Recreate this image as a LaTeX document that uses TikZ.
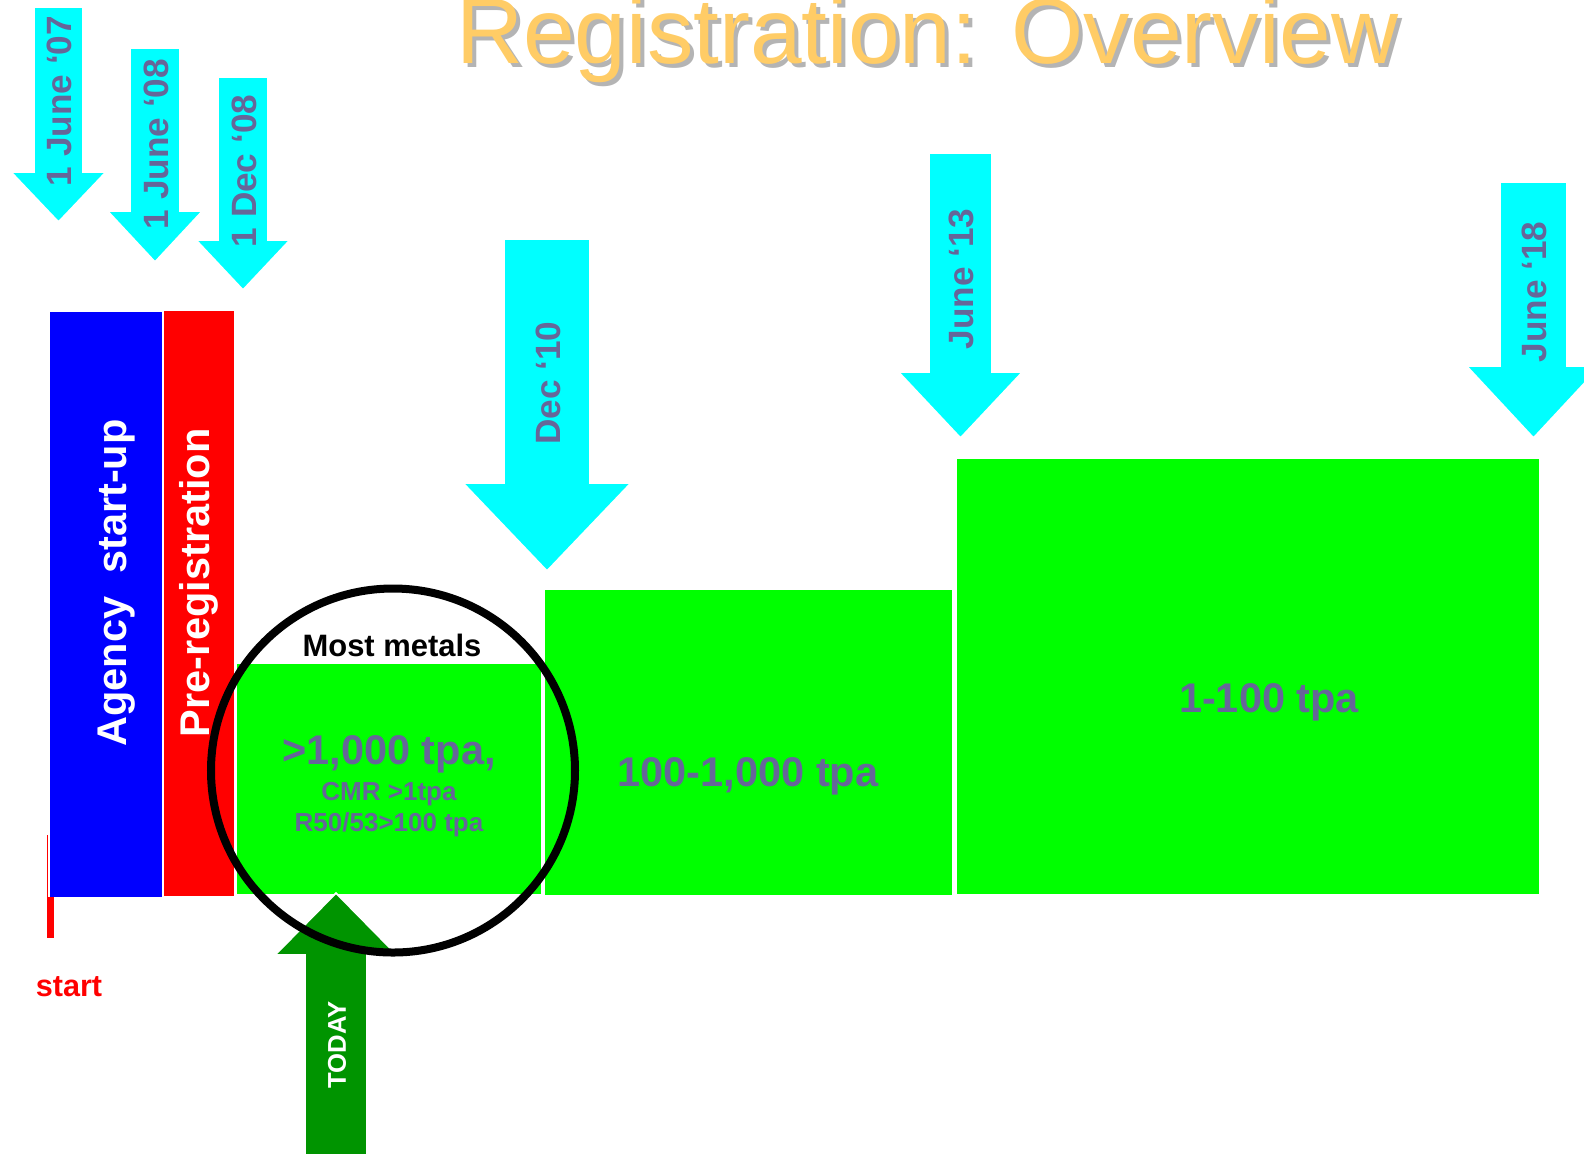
\documentclass[tikz,border=0pt]{standalone}
\usepackage{fontspec}
\setmainfont{Liberation Sans}
\usetikzlibrary{positioning}
\definecolor{slate}{RGB}{102,102,153}
\definecolor{titleorange}{RGB}{255,204,102}
\definecolor{shadowgrey}{RGB}{180,180,180}
\definecolor{datecyan}{RGB}{0,255,255}
\definecolor{todaygreen}{RGB}{0,148,0}
\definecolor{bandgreen}{RGB}{0,255,0}
\tikzset{
  datearrow/.style={fill=datecyan, draw=white, line width=0.5pt},
  todayarrow/.style={fill=todaygreen, draw=white, line width=0.5pt},
  datelabel/.style={rotate=90, text=slate, inner sep=0pt, font=\bfseries\fontsize{10}{12}\selectfont},
  barlabel/.style={rotate=90, text=white, inner sep=0pt, font=\bfseries\fontsize{11.8}{14}\selectfont},
  band/.style={fill=bandgreen, draw=white, line width=0.4pt},
  bandlabel/.style={text=slate, inner sep=0pt, font=\bfseries\fontsize{11.8}{14}\selectfont},
  sublabel/.style={text=slate, inner sep=0pt, font=\bfseries\fontsize{7.4}{9}\selectfont},
  titletext/.style={anchor=base, inner sep=0pt, font=\fontsize{26.4}{30}\selectfont},
}

\begin{document}
\begin{tikzpicture}[x=0.01cm,y=-0.01cm]
	\useasboundingbox (0,0) rectangle (1584,1153);
	
	% title
	\node[titletext, text=shadowgrey] (titleshadow) at (931.5,67) {Registration: Overview};
	\node[titletext, text=titleorange] (title) at (927.5,63) {Registration: Overview};
	
	% start bars
	\fill[blue] (50,312) rectangle (162,897);
	\fill[red] (164,311) rectangle (234,896);
	\node[barlabel] (agency) at (117,583) {Agency\ \ start-up};
	\node[barlabel] (prereg) at (199,583) {Pre-registration};
	
	\draw[red, line width=0.3pt] (47.7,835) -- (47.7,897);
	\fill[red] (47,897) rectangle (54,938);
	\node[text=red, inner sep=0pt, font=\bfseries\fontsize{8.7}{10}\selectfont] (start) at (69,987) {start};
	
	% tonnage bands
	\path[band] (236,663) rectangle (542,895);
	\path[band] (544,589) rectangle (953,896);
	\path[band] (956,458) rectangle (1540,895);
	\node[inner sep=0pt, font=\bfseries\fontsize{8.8}{10}\selectfont] (metals) at (392,645) {Most metals};
	\node[bandlabel] (band1) at (389,754) {>1,000 tpa,};
	\node[sublabel] (cmr) at (389,794) {CMR >1tpa};
	\node[sublabel] (r5053) at (389,825) {R50/53>100 tpa};
	\node[bandlabel] (band2) at (748,776) {100-1,000 tpa};
	\node[bandlabel] (band3) at (1269,702) {1-100 tpa};
	
	% deadlines
	\foreach \cx/\ytop/\yneck/\ytip/\hs/\hh/\ly/\lab [count=\i] in {
		58.5/7/172/222/24.5/47.5/101/{1 June ‘07},
		155/48/211/262/25/47.5/144/{1 June ‘08},
		243/77/240/290/25/47/171/{1 Dec ‘08},
		547/239/483/571/43/84/383/{Dec ‘10},
		960.5/153/372/438/31.5/62/279/{June ‘13},
		1533.5/182/366/438/33.5/67/292/{June ‘18}}
	{
		\path[datearrow] ({\cx-\hs},\ytop) -- ({\cx+\hs},\ytop) -- ({\cx+\hs},\yneck) -- ({\cx+\hh},\yneck)
			-- (\cx,\ytip) -- ({\cx-\hh},\yneck) -- ({\cx-\hs},\yneck) -- cycle;
		\node[datelabel] (date\i) at ({\cx+1},\ly) {\lab};
	}
	
	% today
	\path[todayarrow] (305,1160) -- (305,955) -- (275,955) -- (336,893) -- (397,955) -- (367,955) -- (367,1160) -- cycle;
	\node[rotate=90, text=white, inner sep=0pt, font=\bfseries\fontsize{7.3}{9}\selectfont] (today) at (337,1045) {TODAY};
	
	\draw[line width=0.08cm] (393,770.5) circle [radius=182];
\end{tikzpicture}
\end{document}
